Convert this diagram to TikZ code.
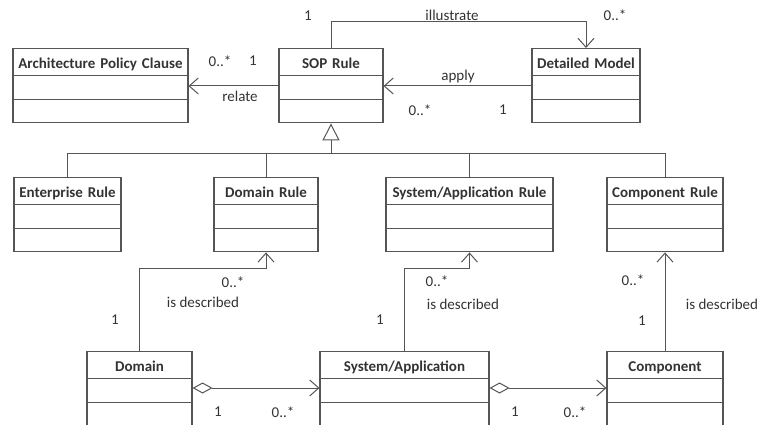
\documentclass[tikz,border=0pt]{standalone}
\usepackage{fontspec}
\setmainfont{Carlito}
\usetikzlibrary{calc, positioning}
\usetikzlibrary{arrows.meta}
\usetikzlibrary{shapes.multipart}

\definecolor{linegray}{HTML}{555555}
\definecolor{textgray}{HTML}{333333}

\tikzset{
  umlclass/.style={rectangle split, rectangle split parts=3, draw=linegray,
    line width=1.1pt, anchor=north, inner ysep=0pt, inner xsep=1pt,
    align=center, text=textgray, font=\fontsize{15}{18}\selectfont\bfseries},
  assoc/.style={draw=linegray, line width=1pt,
    -{Straight Barb[length=9pt, width=16pt, line width=1pt]}},
  aggr/.style={draw=linegray, line width=1pt,
    {Diamond[open, length=20pt, width=11pt, line width=1pt]}-{Straight Barb[length=9pt, width=16pt, line width=1pt]}},
  inherit/.style={draw=linegray, line width=1pt,
    -{Triangle[open, length=17pt, width=17pt, line width=1pt]}},
  lbl/.style={text=textgray, font=\fontsize{15}{18}\selectfont, inner sep=1pt},
}

\newcommand{\titlepart}[1]{\raisebox{7pt}{#1}\rule{0pt}{26pt}\nodepart{two}\rule{0pt}{23pt}\nodepart{three}\rule{0pt}{22pt}}

\begin{document}
\begin{tikzpicture}[x=1pt, y=-1pt]
      \useasboundingbox (0,0) rectangle (760,425);

      % classes
      \node[umlclass, text width=173pt] (apc) at (100.5,48) {\titlepart{Architecture Policy Clause}};
      \node[umlclass, text width=102pt] (sop) at (331,48) {\titlepart{SOP Rule}};
      \node[umlclass, text width=106pt] (dm) at (586,48) {\titlepart{Detailed Model}};

      \node[umlclass, text width=105pt] (ent) at (67.5,177) {\titlepart{Enterprise Rule}};
      \node[umlclass, text width=102pt] (domr) at (266,177) {\titlepart{Domain Rule}};
      \node[umlclass, text width=165pt] (sysr) at (469.5,177) {\titlepart{System/Application Rule}};
      \node[umlclass, text width=114pt] (compr) at (665,177) {\titlepart{Component Rule}};

      \node[umlclass, text width=103pt] (dom) at (139.5,351) {\titlepart{Domain}};
      \node[umlclass, text width=167pt] (sys) at (404.5,351) {\titlepart{System/Application}};
      \node[umlclass, text width=114pt] (comp) at (665,351) {\titlepart{Component}};

      % generalization
      \coordinate (bus) at (331,153);
      \draw[inherit] (bus) -- (sop.south);
      \draw[draw=linegray, line width=1pt] (ent.north) |- (compr.north |- bus) -- (compr.north);
      \draw[draw=linegray, line width=1pt] (domr.north) -- (domr.north |- bus);
      \draw[draw=linegray, line width=1pt] (sysr.north) -- (sysr.north |- bus);

      % associations
      \coordinate (ill) at (586,22);
      \draw[assoc] (sop.north) |- (ill) -- (dm.north);
      \draw[assoc] ($(sop.north west)+(0,38)$) -- ($(apc.north east)+(0,38)$);
      \draw[assoc] ($(dm.north west)+(0,38)$) -- ($(sop.north east)+(0,38)$);

      \draw[assoc] (dom.north) -- (dom.north |- 0,268) -| (domr.south);
      \draw[assoc] (sys.north) -- (sys.north |- 0,268) -| (sysr.south);
      \draw[assoc] (comp.north) -- (compr.south);

      \draw[aggr] ($(dom.north east)+(0,37)$) -- ($(sys.north west)+(0,37)$);
      \draw[aggr] ($(sys.north east)+(0,37)$) -- ($(comp.north west)+(0,37)$);

      % labels
      \node[lbl] (ill1) at (308,16) {1};
      \node[lbl] (illt) at (452,15) {illustrate};
      \node[lbl] (illn) at (615,15) {0..*};

      \node[lbl] (reln) at (220,61) {0..*};
      \node[lbl] (rel1) at (253,61) {1};
      \node[lbl] (relt) at (240,96) {relate};

      \node[lbl] (appt) at (458,77) {apply};
      \node[lbl] (appn) at (420,110) {0..*};
      \node[lbl] (app1) at (503,110) {1};

      \node[lbl] (domn) at (233,282) {0..*};
      \node[lbl] (domt) at (203,302) {is described};
      \node[lbl] (dom1) at (115,320) {1};

      \node[lbl] (sysn) at (437,281) {0..*};
      \node[lbl] (syst) at (463,304) {is described};
      \node[lbl] (sys1) at (380,320) {1};

      \node[lbl] (compn) at (633,280) {0..*};
      \node[lbl] (compt) at (722,304) {is described};
      \node[lbl] (comp1) at (642,321) {1};

      \node[lbl] (agg1a) at (218,412) {1};
      \node[lbl] (aggna) at (283,412) {0..*};
      \node[lbl] (agg1b) at (515,412) {1};
      \node[lbl] (aggnb) at (575,412) {0..*};
    \end{tikzpicture}
\end{document}
